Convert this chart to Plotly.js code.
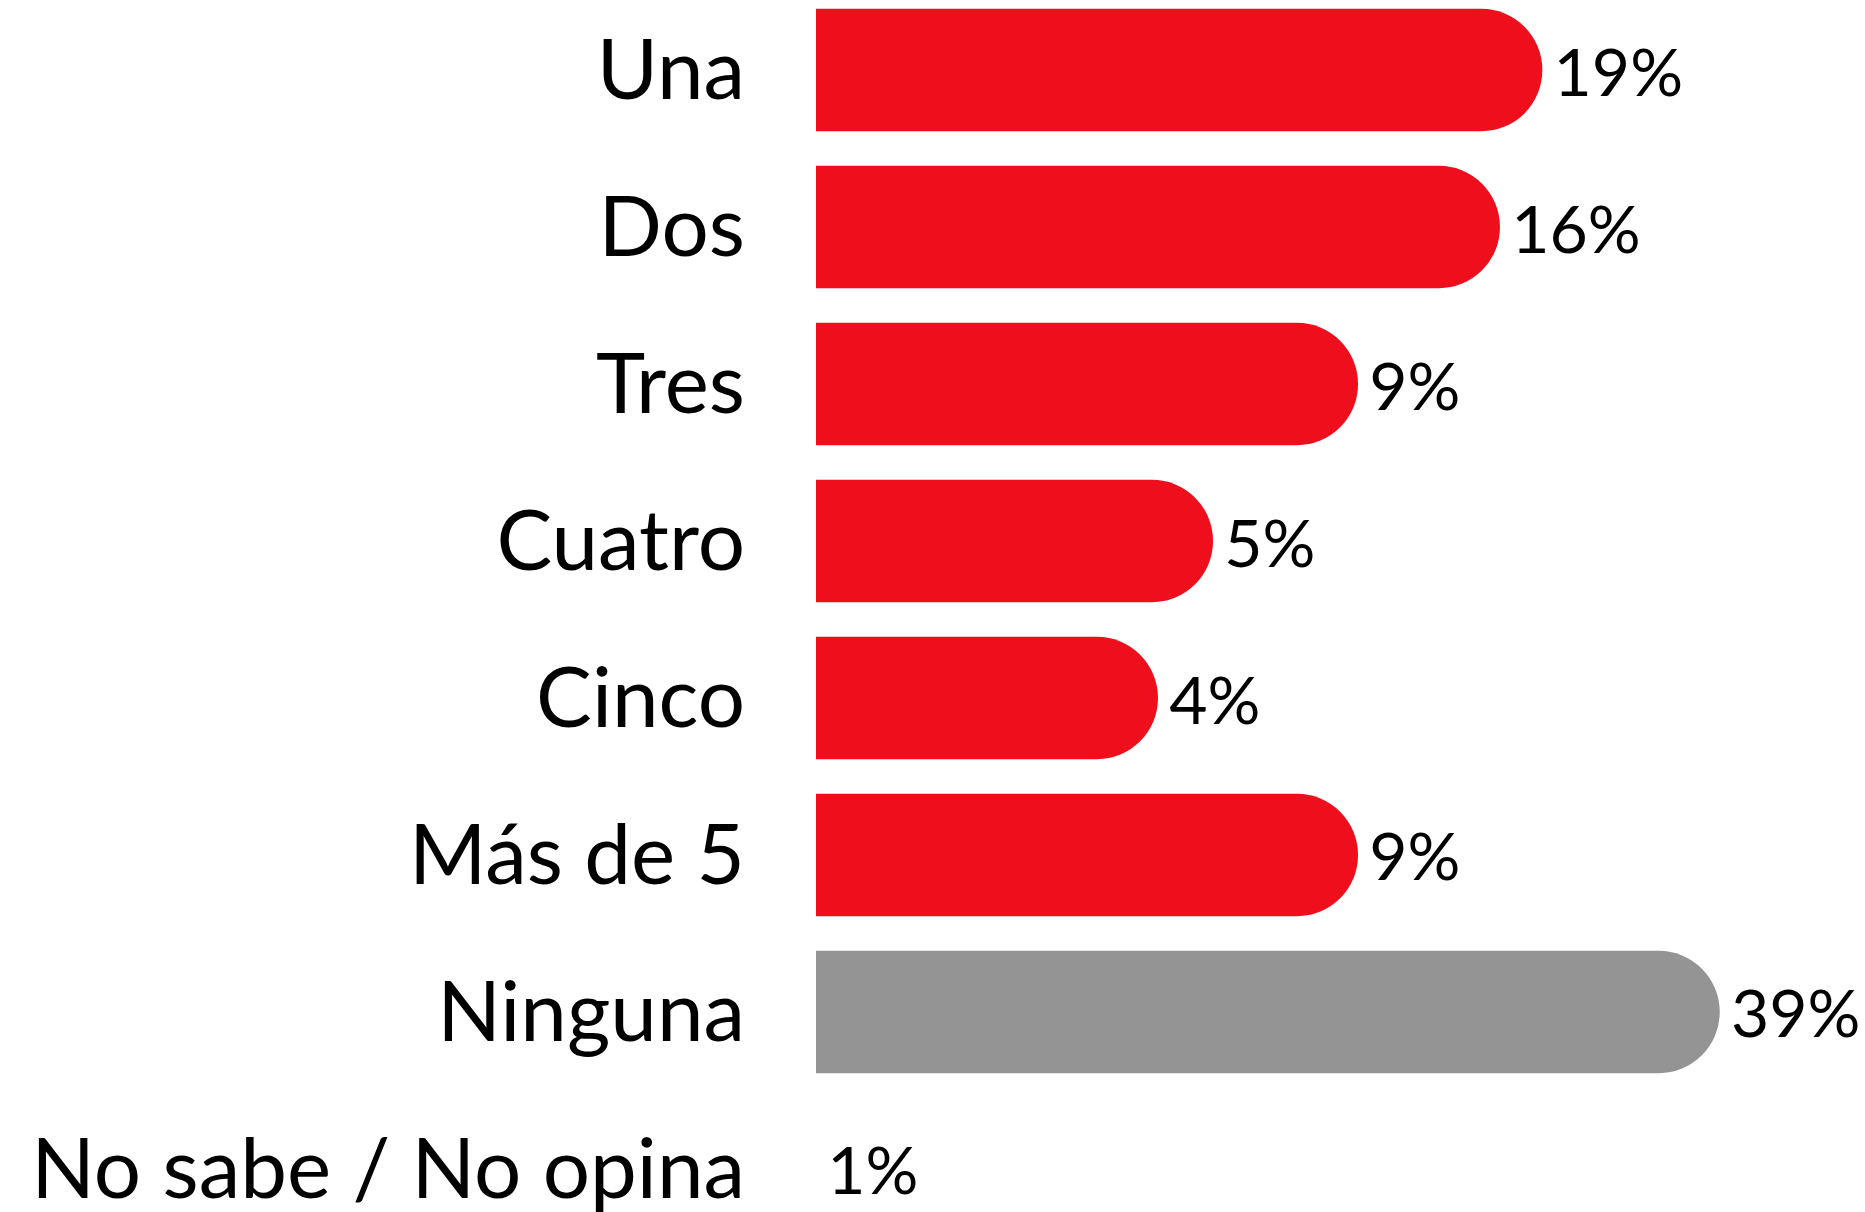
<!DOCTYPE html>
<html><head><meta charset="utf-8">
<script src="https://cdn.plot.ly/plotly-3.0.1.min.js"></script>
<style>html,body{margin:0;padding:0;background:#fff;overflow:hidden}</style>
</head><body><div id="chart" style="width:1865px;height:1212px"></div>
<script>
const categories = ["Una", "Dos", "Tres", "Cuatro", "Cinco", "Más de 5", "Ninguna", "No sabe / No opina"];
const values = [19, 16, 9, 5, 4, 9, 39, 1];
const valueLabels = ["19%", "16%", "9%", "5%", "4%", "9%", "39%", "1%"];
const RED = "#EF0E1C", GREY = "#949494";
const barColors = categories.map(c => c === "Ninguna" ? GREY : RED);

const FONT = "Lato, 'Noto Sans', sans-serif";

const trace = {
  type: "bar",
  orientation: "h",
  x: values,
  y: categories,
  text: valueLabels.map(t => "\u2009" + t),
  textposition: "outside",
  textfont: {family: FONT, size: 66, color: "#000", weight: 400},
  constraintext: "none",
  cliponaxis: true,
  marker: {color: barColors, cornerradius: "50%", line: {width: 0}},
  hoverinfo: "skip"
};

const layout = {
  width: 1865, height: 1212,
  margin: {l: 816, r: 0, t: 0, b: 0, pad: 0},
  paper_bgcolor: "#fff", plot_bgcolor: "#fff",
  showlegend: false,
  bargap: 0.22,
  font: {family: FONT, color: "#000"},
  xaxis: {type: "log", range: [0, 1.8468], visible: false, fixedrange: true},
  yaxis: {
    type: "category",
    categoryorder: "array",
    categoryarray: categories,
    range: [7.274, -0.446],
    showgrid: false, zeroline: false, showline: false, ticks: "",
    ticklabelstandoff: 70,
    tickfont: {family: FONT, size: 83.5, color: "#000", weight: 400},
    automargin: false,
    fixedrange: true
  }
};

Plotly.newPlot("chart", [trace], layout, {displayModeBar: false, staticPlot: true});
</script></body></html>
